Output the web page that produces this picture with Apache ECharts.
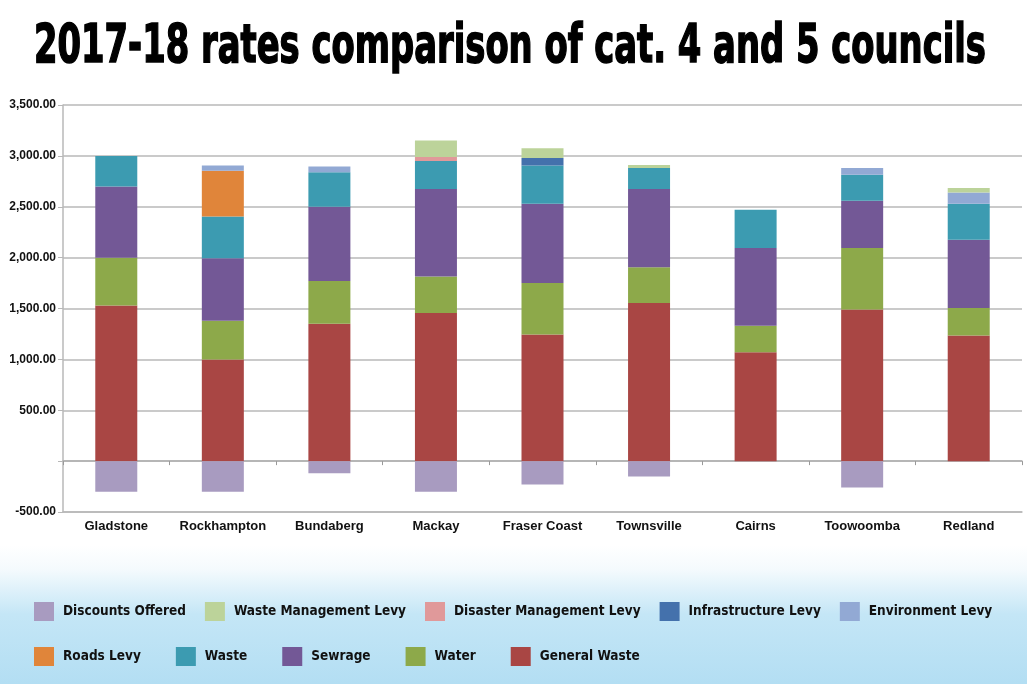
<!DOCTYPE html>
<html>
<head>
<meta charset="utf-8">
<script src="https://cdn.jsdelivr.net/npm/echarts@6/dist/echarts.min.js"></script>
<style>
html,body{margin:0;padding:0;background:#fff;}
#chart{width:1027px;height:684px;}
</style>
</head>
<body>
<div id="chart"></div>
<script>
var titleText = '2017-18 rates comparison of cat. 4 and 5 councils';
var councils = ['Gladstone','Rockhampton','Bundaberg','Mackay','Fraser Coast','Townsville','Cairns','Toowoomba','Redland'];
var generalWaste  = [1530, 1000, 1350, 1455, 1245, 1555, 1070, 1490, 1235];
var water         = [470, 380, 420, 360, 505, 350, 260, 605, 270];
var sewrage       = [700, 615, 730, 860, 780, 770, 765, 465, 670];
var waste         = [300, 410, 340, 275, 375, 205, 375, 255, 355];
var roadsLevy     = [0, 450, 0, 0, 0, 0, 0, 0, 0];
var environmentLevy = [0, 50, 55, 0, 0, 0, 0, 65, 110];
var infrastructureLevy = [0, 0, 0, 0, 75, 0, 0, 0, 0];
var disasterLevy  = [0, 0, 0, 40, 0, 0, 0, 0, 0];
var wasteMgmtLevy = [0, 0, 0, 160, 95, 30, 0, 0, 45];
var discounts     = [-300, -300, -120, -300, -230, -150, 0, -260, 0];
var yTicks = {min: -500, max: 3500, interval: 500};

var legendRow1 = ['Discounts Offered','Waste Management Levy','Disaster Management Levy','Infrastructure Levy','Environment Levy'];
var legendRow2 = ['Roads Levy','Waste','Sewrage','Water','General Waste'];

var colors = {
  'General Waste': '#A94644',
  'Water': '#8DA94A',
  'Sewrage': '#735896',
  'Waste': '#3C9BB1',
  'Roads Levy': '#E0853A',
  'Environment Levy': '#92A9D4',
  'Infrastructure Levy': '#4471AC',
  'Disaster Management Levy': '#E0999A',
  'Waste Management Levy': '#BCD39A',
  'Discounts Offered': '#A89BC0'
};

var seriesDefs = [
  ['General Waste', generalWaste],
  ['Water', water],
  ['Sewrage', sewrage],
  ['Waste', waste],
  ['Roads Levy', roadsLevy],
  ['Environment Levy', environmentLevy],
  ['Infrastructure Levy', infrastructureLevy],
  ['Disaster Management Levy', disasterLevy],
  ['Waste Management Levy', wasteMgmtLevy],
  ['Discounts Offered', discounts]
];

var condensed = "'DejaVu Sans Condensed', 'Liberation Sans', sans-serif";
var titleFont = "bold 52px 'DejaVu Sans Condensed', sans-serif";
var mctx = document.createElement('canvas').getContext('2d');
mctx.font = titleFont;
var titleScaleX = 952 / mctx.measureText(titleText).width;

function fmt(v){
  if (v === 0) return '';
  var s = Math.abs(v).toFixed(2).replace(/\B(?=(\d{3})+(?!\d))/g, ',');
  return (v < 0 ? '-' : '') + s;
}

var legendText = {color:'#111', fontFamily: condensed, fontWeight:'bold', fontSize:13.5, padding:[0,0,0,4]};

var chart = echarts.init(document.getElementById('chart'), null, {renderer:'canvas'});
chart.setOption({
  animation: false,
  backgroundColor: '#fff',
  graphic: [
    {
      type: 'rect', z: -10, silent: true,
      shape: {x: 0, y: 545, width: 1027, height: 139},
      style: {fill: new echarts.graphic.LinearGradient(0,0,0,1,[
        {offset:0, color:'#ffffff'},
        {offset:0.18, color:'#f4fafd'},
        {offset:0.5, color:'#c4e6f6'},
        {offset:1, color:'#b3def3'}
      ])}
    },
    {
      type: 'text', x: 34, y: 21, z: 10,
      scaleX: titleScaleX, scaleY: 1.03,
      style: {
        text: titleText,
        font: titleFont,
        fill: '#000', stroke: '#000', lineWidth: 1.5,
        align: 'left', verticalAlign: 'top'
      }
    }
  ],
  legend: [
    {data: legendRow1, left: 34, top: 602, padding: 0, itemWidth: 20, itemHeight: 19, itemGap: 19,
     icon: 'rect', textStyle: legendText, selectedMode: false},
    {data: legendRow2, left: 34, top: 647, padding: 0, itemWidth: 20, itemHeight: 19, itemGap: 35,
     icon: 'rect', textStyle: legendText, selectedMode: false}
  ],
  grid: {left: 63, right: 5, top: 105, bottom: 172, containLabel: false},
  xAxis: [
    {
      type: 'category', data: councils, position: 'bottom',
      axisLine: {onZero: false, lineStyle: {color: '#b8b8b8', width: 1.5}},
      axisTick: {show: false},
      axisLabel: {interval: 0, color: '#111', fontFamily: "'Liberation Sans', sans-serif", fontWeight: 'bold', fontSize: 13, margin: 8}
    },
    {
      type: 'category', data: councils, position: 'top',
      axisLine: {onZero: true, lineStyle: {color: '#b0b0b0', width: 1.5}},
      axisTick: {show: true, inside: true, length: 4, lineStyle: {color: '#999'}},
      axisLabel: {show: false}
    }
  ],
  yAxis: {
    type: 'value', min: yTicks.min, max: yTicks.max, interval: yTicks.interval,
    axisLine: {show: true, lineStyle: {color: '#b8b8b8', width: 1.5}},
    axisTick: {show: true, length: 5, lineStyle: {color: '#b8b8b8'}},
    splitLine: {lineStyle: {color: '#b8b8b8', width: 1.5}},
    axisLabel: {color: '#111', fontFamily: "'Liberation Sans', sans-serif", fontWeight: 'bold', fontSize: 12, margin: 7, formatter: fmt}
  },
  series: seriesDefs.map(function(d){
    return {
      name: d[0], type: 'bar', stack: 'total', barWidth: 42,
      itemStyle: {color: colors[d[0]]},
      data: d[1]
    };
  })
});
</script>
</body>
</html>
